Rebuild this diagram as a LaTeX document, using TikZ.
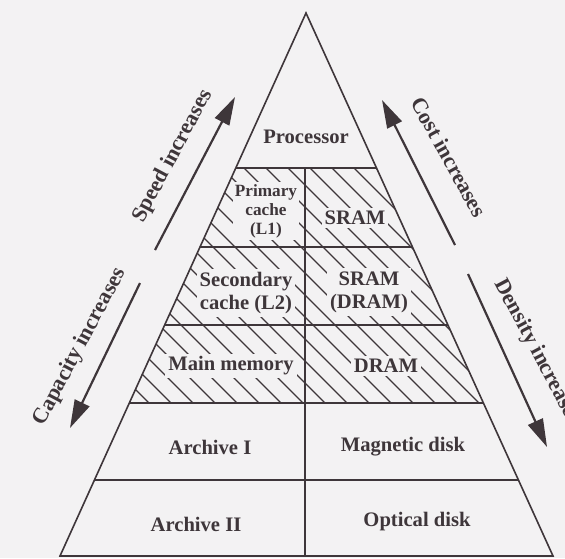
\documentclass[tikz,border=0pt]{standalone}
\usepackage{fontspec}
\setmainfont{Liberation Serif}
\usetikzlibrary{arrows.meta,calc}
\definecolor{inkc}{RGB}{62,54,58}
\definecolor{bgc}{RGB}{243,242,243}
\begin{document}
\begin{tikzpicture}[x=0.5pt, y=-0.5pt,
    edge/.style={draw=inkc, line width=0.8pt},
    hatch/.style={draw=inkc, line width=0.6pt},
    cell/.style={font=\fontsize{10.3}{11.5}\selectfont\bfseries, text=inkc, fill=bgc, inner sep=1.5pt, align=center},
    small/.style={font=\fontsize{8.6}{9.5}\selectfont\bfseries, text=inkc, fill=bgc, inner sep=1pt, align=center},
    trend/.style={draw=inkc, line width=1.1pt, -{Triangle[length=14pt,width=8pt]}},
    trendlab/.style={font=\fontsize{11}{13}\selectfont\bfseries, text=inkc}]
  % Page and background
  \useasboundingbox (0,0) rectangle (565,558);
  \fill[bgc] (0,0) rectangle (565,558);
  % Pyramid corners and level lines
  \coordinate (apex) at (306,13);
  \coordinate (bl) at (60,556);
  \coordinate (br) at (553,556);
  \foreach \n/\y in {1/168, 2/247, 3/325, 4/403, 5/480} {
    \coordinate (l\n) at ($(apex)!{(\y-13)/543}!(bl)$);
    \coordinate (r\n) at ($(apex)!{(\y-13)/543}!(br)$);
  }
  \coordinate (ctop) at (305,168);
  \coordinate (cbot) at (305,556);
  % Hatching of the semiconductor levels
  \begin{scope}
    \clip (l1) -- (r1) -- (r4) -- (l4) -- cycle;
    \foreach \x in {-240,-218,...,600}
      \draw[hatch] (\x,168) -- ++(235,235);
  \end{scope}
  % Cell texts
  \node[cell] (proc) at (306,137) {Processor};
  \node[small] (l1c) at (266,211) {Primary\\cache\\(L1)};
  \node[cell] (sram) at (355,218) {SRAM};
  \node[cell] (l2c) at (246,293) {Secondary\\cache (L2)};
  \node[cell] (sdram) at (369,292) {SRAM\\(DRAM)};
  \node[cell] (mem) at (231,366) {Main memory};
  \node[cell] (dram) at (386,366) {DRAM};
  \node[cell] (arc1) at (210,447) {Archive I};
  \node[cell] (mag) at (403,447) {Magnetic disk};
  \node[cell] (arc2) at (196,524) {Archive II};
  \node[cell] (opt) at (417,522) {Optical disk};
  % Outline, levels and middle line
  \draw[edge] (apex) -- (bl) -- (br) -- cycle;
  \foreach \n in {1,...,5}
    \draw[edge] (l\n) -- (r\n);
  \draw[edge] (ctop) -- (cbot);
  % Trend arrows
  \coordinate (speedA) at (155,250);
  \coordinate (speedB) at (235,97);
  \coordinate (costA) at (455,245);
  \coordinate (costB) at (382,100);
  \coordinate (capA) at (140,283);
  \coordinate (capB) at (70,428);
  \coordinate (densA) at (468,274);
  \coordinate (densB) at (547,447);
  \draw[trend] (speedA) -- (speedB);
  \draw[trend] (costA) -- (costB);
  \draw[trend] (capA) -- (capB);
  \draw[trend] (densA) -- (densB);
  \node[trendlab, rotate=62] (speed) at (173,156) {Speed increases};
  \node[trendlab, rotate=-61] (cost) at (449,157) {Cost increases};
  \node[trendlab, rotate=62] (cap) at (80,347) {Capacity increases};
  \node[trendlab, rotate=-62] (dens) at (537,352) {Density increases};
\end{tikzpicture}
\end{document}
